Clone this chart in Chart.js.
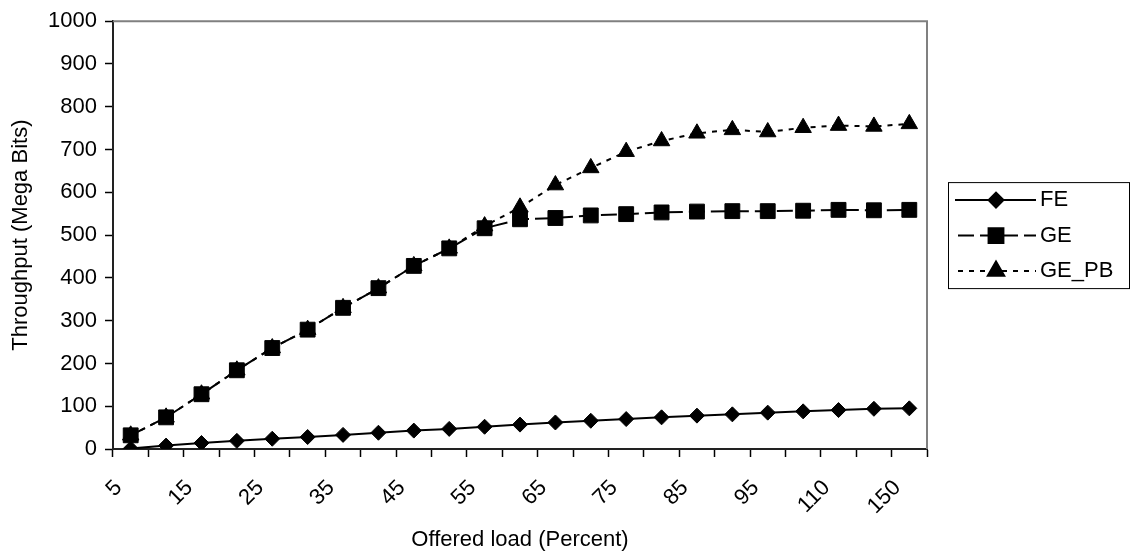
<!DOCTYPE html>
<html>
<head>
<meta charset="utf-8">
<script src="https://cdn.jsdelivr.net/npm/chart.js@4/dist/chart.umd.min.js"></script>
<style>
    body { margin: 0; background: #fff; }
    #wrap { width: 1131px; height: 558px; position: relative; }
</style>
</head>
<body>
<div id="wrap"><canvas id="loadChart"></canvas></div>
<script>
// offered load categories (only every other one is labelled)
const loads = ['5', '10', '15', '20', '25', '30', '35', '40', '45', '50', '55', '60', '65', '70',
    '75', '80', '85', '90', '95', '100', '110', '130', '150'];

const feValues = [1, 8, 14, 19, 24, 28, 33, 38, 43, 47, 52, 57, 62, 66, 70, 74, 78, 81, 85, 88, 91, 94, 95];
const geValues = [32, 74, 128, 184, 236, 279, 330, 376, 428, 469, 516, 537, 540, 546, 549, 553, 555, 556, 556, 557, 559, 558, 559];
const gePbValues = [32, 74, 128, 184, 236, 279, 330, 376, 428, 469, 521, 565, 617, 657, 695, 720, 738, 746, 741, 751, 756, 754, 760];

const seriesNames = ['FE', 'GE', 'GE_PB'];
const yTicks = [0, 100, 200, 300, 400, 500, 600, 700, 800, 900, 1000];

const fontFamily = '"Liberation Sans", Arial, sans-serif';
const fontSize = 22;

// gray frame on top and right of the plot area
const frameLines = {
    id: 'frameLines',
    beforeDatasetsDraw(chart) {
        const a = chart.chartArea;
        const ctx = chart.ctx;
        ctx.save();
        ctx.strokeStyle = '#808080';
        ctx.lineWidth = 2;
        ctx.beginPath();
        ctx.moveTo(a.left, a.top);
        ctx.lineTo(a.right, a.top);
        ctx.lineTo(a.right, a.bottom);
        ctx.stroke();
        ctx.restore();
    }
};

// Excel style legend: line - marker - line, in a box
const boxLegend = {
    id: 'boxLegend',
    afterDraw(chart) {
        const a = chart.chartArea;
        const ctx = chart.ctx;
        const left = a.right + 21;
        const w = 181, h = 106;
        const top = (a.top + a.bottom) / 2 - h / 2;
        ctx.save();
        ctx.fillStyle = '#fff';
        ctx.fillRect(left, top, w, h);
        ctx.strokeStyle = '#000';
        ctx.lineWidth = 1;
        ctx.strokeRect(left + 0.5, top + 0.5, w, h);

        chart.data.datasets.forEach((ds, i) => {
            const y = top + 18 + i * 35.5;
            ctx.strokeStyle = '#000';
            ctx.lineWidth = ds.borderWidth;
            ctx.setLineDash(ds.borderDash || []);
            ctx.lineDashOffset = -3;
            ctx.beginPath();
            ctx.moveTo(left + 7, y);
            ctx.lineTo(left + 88, y);
            ctx.stroke();
            ctx.setLineDash([]);
            ctx.fillStyle = '#000';
            Chart.helpers.drawPoint(ctx, {
                pointStyle: ds.pointStyle,
                radius: ds.pointRadius,
                borderWidth: 1,
                rotation: 0
            }, left + 48, y);
            ctx.fill();
            ctx.font = fontSize + 'px ' + fontFamily;
            ctx.textBaseline = 'middle';
            ctx.textAlign = 'left';
            ctx.fillText(ds.label, left + 92, y);
        });
        ctx.restore();
    }
};

function makeSet(label, values, style, radius, dash) {
    return {
        label: label,
        data: values,
        borderColor: '#000',
        backgroundColor: '#000',
        borderWidth: 2,
        borderDash: dash,
        tension: 0,
        pointStyle: style,
        pointRadius: radius,
        pointHoverRadius: radius,
        pointBackgroundColor: '#000',
        pointBorderColor: '#000',
        pointBorderWidth: 1
    };
}

const ctx = document.getElementById('loadChart').getContext('2d');
new Chart(ctx, {
    type: 'line',
    data: {
        labels: loads,
        datasets: [
            makeSet(seriesNames[0], feValues, 'rectRot', 7.5, []),
            makeSet(seriesNames[1], geValues, 'rect', 10.5, [16, 6]),
            makeSet(seriesNames[2], gePbValues, 'triangle', 9.5, [5, 6])
        ]
    },
    options: {
        responsive: true,
        maintainAspectRatio: false,
        animation: false,
        layout: { padding: { top: 10, right: 204, left: 0, bottom: 0 } },
        plugins: {
            legend: { display: false },
            tooltip: { enabled: false }
        },
        scales: {
            x: {
                offset: true,
                grid: {
                    offset: true,
                    drawOnChartArea: false,
                    drawTicks: true,
                    tickLength: 8,
                    tickWidth: 1.5,
                    tickColor: '#000'
                },
                border: { display: true, color: '#222', width: 2 },
                ticks: {
                    autoSkip: false,
                    minRotation: 45,
                    maxRotation: 45,
                    padding: 18,
                    labelOffset: -12,
                    color: '#000',
                    font: { family: fontFamily, size: fontSize },
                    callback: function(value, index) {
                        return index % 2 === 0 ? loads[index] : '';
                    }
                },
                title: {
                    display: true,
                    text: 'Offered load (Percent)',
                    color: '#000',
                    font: { family: fontFamily, size: fontSize },
                    padding: { top: 0, bottom: 5 }
                },
                afterFit: function(scale) { scale.height = 109; }
            },
            y: {
                min: 0,
                max: 1000,
                afterBuildTicks: function(scale) {
                    scale.ticks = yTicks.map(v => ({ value: v }));
                },
                grid: {
                    drawOnChartArea: false,
                    drawTicks: true,
                    tickLength: 8,
                    tickWidth: 1.5,
                    tickColor: '#000'
                },
                border: { display: true, color: '#222', width: 2 },
                ticks: {
                    padding: 8,
                    color: '#000',
                    font: { family: fontFamily, size: fontSize },
                    callback: function(value) { return String(value); }
                },
                title: {
                    display: true,
                    text: 'Throughput (Mega Bits)',
                    color: '#000',
                    font: { family: fontFamily, size: fontSize },
                    padding: { top: 8, bottom: 0 }
                },
                afterFit: function(scale) { scale.width = 113; }
            }
        }
    },
    plugins: [frameLines, boxLegend]
});
</script>
</body>
</html>
